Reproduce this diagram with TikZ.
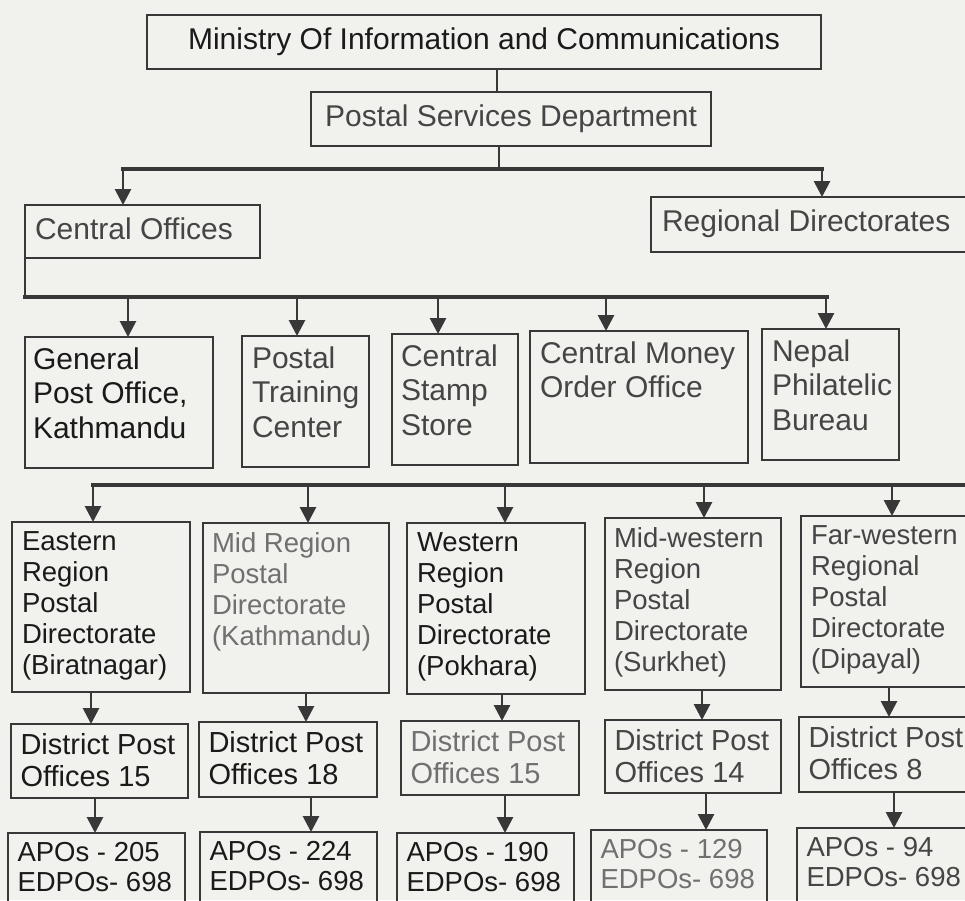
\documentclass[tikz,border=0pt]{standalone}
\usepackage{fontspec}
\setmainfont{Liberation Sans}
\usetikzlibrary{arrows.meta}
\definecolor{paper}{HTML}{F1F1EE}
\definecolor{ink}{HTML}{1A1A1A}
\definecolor{inkg}{HTML}{454545}
\definecolor{inkl}{HTML}{707070}
\definecolor{linec}{HTML}{383838}
\tikzset{
  boxst/.style={draw=linec, line width=2.2pt, inner sep=0pt, outer sep=0pt, anchor=north west},
  txt/.style={inner sep=0pt, outer sep=0pt, anchor=north west, align=left, text=ink},
  one/.style={text height=21.5pt, text depth=0pt},
  fbig/.style={font=\fontsize{30}{34.5}\selectfont},
  fthree/.style={font=\fontsize{27.5}{31}\selectfont},
  ffour/.style={font=\fontsize{29}{32}\selectfont},
  ffive/.style={font=\fontsize{27.5}{30}\selectfont},
  bus/.style={draw=linec, line width=3.6pt},
  conn/.style={draw=linec, line width=2.8pt},
  arr/.style={conn, -{Triangle[width=16pt,length=16pt]}},
}
\newcommand\orgbox[5]{\node[boxst, minimum width={(#4-#2)*1pt}, minimum height={(#5-#3)*1pt}] (#1) at (#2,#3) {};}
\begin{document}
\begin{tikzpicture}[x=1pt,y=-1pt]
\useasboundingbox (0,0) rectangle (965,900);
\fill[paper] (0,0) rectangle (965,900);
\clip (0,0) rectangle (965,900);

% top levels
\orgbox{mini}{147}{15}{821}{69}
\node[txt, fbig, one, anchor=center] (mini-t) at ([yshift=3pt]mini.center) {Ministry Of Information and Communications};
\orgbox{psd}{311}{92}{711}{146}
\node[txt, fbig, one, anchor=center, text=inkg] (psd-t) at ([yshift=3pt]psd.center) {Postal Services Department};
\orgbox{cen}{25}{205}{260}{258}
\node[txt, fbig, one, anchor=west, text=inkg] (cen-t) at ([xshift=10pt,yshift=3pt]cen.west) {Central Offices};
\orgbox{reg}{651}{197}{985}{252}
\node[txt, fbig, one, anchor=west, text=inkg] (reg-t) at ([xshift=11pt,yshift=4pt]reg.west) {Regional Directorates};

% central offices row
\orgbox{gpo}{25}{337}{213}{468}
\orgbox{ptc}{242}{336}{369}{467}
\orgbox{css}{392}{334}{518}{465}
\orgbox{cmo}{530}{331}{748}{463}
\orgbox{npb}{762}{329}{899}{460}
\node[txt, fbig] (gpo-t) at ([shift={(8pt,-10.5pt)}]gpo.north west) {General\\Post Office,\\Kathmandu};
\node[txt, fbig, text=inkg] (ptc-t) at ([shift={(10pt,-10.5pt)}]ptc.north west) {Postal\\Training\\Center};
\node[txt, fbig, text=inkg] (css-t) at ([shift={(9pt,-10.5pt)}]css.north west) {Central\\Stamp\\Store};
\node[txt, fbig, text=inkg] (cmo-t) at ([shift={(10pt,-10.5pt)}]cmo.north west) {Central Money\\Order Office};
\node[txt, fbig, text=inkg] (npb-t) at ([shift={(10pt,-10.5pt)}]npb.north west) {Nepal\\Philatelic\\Bureau};

% regional directorates row
\orgbox{r3a}{12}{522}{190}{692}
\orgbox{r3b}{203}{523}{389}{693}
\orgbox{r3c}{407}{523}{585}{694}
\orgbox{r3d}{605}{518}{781}{690}
\orgbox{r3e}{801}{516}{985}{687}
\node[txt, fthree] (r3a-t) at ([shift={(10pt,-10pt)}]r3a.north west) {Eastern\\Region\\Postal\\Directorate\\(Biratnagar)};
\node[txt, fthree, text=inkl] (r3b-t) at ([shift={(9pt,-10pt)}]r3b.north west) {Mid Region\\Postal\\Directorate\\(Kathmandu)};
\node[txt, fthree] (r3c-t) at ([shift={(10pt,-10pt)}]r3c.north west) {Western\\Region\\Postal\\Directorate\\(Pokhara)};
\node[txt, fthree, text=inkg] (r3d-t) at ([shift={(9pt,-10pt)}]r3d.north west) {Mid-western\\Region\\Postal\\Directorate\\(Surkhet)};
\node[txt, fthree, text=inkg] (r3e-t) at ([shift={(10pt,-10pt)}]r3e.north west) {Far-western\\Regional\\Postal\\Directorate\\(Dipayal)};

% district post offices row
\orgbox{r4a}{11}{724}{188}{798}
\orgbox{r4b}{199}{722}{377}{797}
\orgbox{r4c}{401}{721}{579}{795}
\orgbox{r4d}{605}{720}{781}{793}
\orgbox{r4e}{799}{717}{985}{792}
\node[txt, ffour] (r4a-t) at ([shift={(9.5pt,-9pt)}]r4a.north west) {District Post\\Offices 15};
\node[txt, ffour] (r4b-t) at ([shift={(9.5pt,-9pt)}]r4b.north west) {District Post\\Offices 18};
\node[txt, ffour, text=inkl] (r4c-t) at ([shift={(9.5pt,-9pt)}]r4c.north west) {District Post\\Offices 15};
\node[txt, ffour, text=inkg] (r4d-t) at ([shift={(9.5pt,-9pt)}]r4d.north west) {District Post\\Offices 14};
\node[txt, ffour, text=inkg] (r4e-t) at ([shift={(9.5pt,-9pt)}]r4e.north west) {District Post\\Offices 8};

% APO row
\orgbox{r5a}{8}{833}{185}{940}
\orgbox{r5b}{200}{832}{377}{940}
\orgbox{r5c}{397}{833}{574}{940}
\orgbox{r5d}{591}{830}{767}{940}
\orgbox{r5e}{797}{828}{985}{940}
\node[txt, ffive] (r5a-t) at ([shift={(9.5pt,-9pt)}]r5a.north west) {APOs - 205\\EDPOs- 698};
\node[txt, ffive] (r5b-t) at ([shift={(9.5pt,-9pt)}]r5b.north west) {APOs - 224\\EDPOs- 698};
\node[txt, ffive] (r5c-t) at ([shift={(9.5pt,-9pt)}]r5c.north west) {APOs - 190\\EDPOs- 698};
\node[txt, ffive, text=inkl] (r5d-t) at ([shift={(9.5pt,-9pt)}]r5d.north west) {APOs - 129\\EDPOs- 698};
\node[txt, ffive, text=inkg] (r5e-t) at ([shift={(9.5pt,-9pt)}]r5e.north west) {APOs - 94\\EDPOs- 698};

% connectors
\coordinate (j1) at (497,0);
\draw[conn] (j1 |- mini.south) -- (j1 |- psd.north);
\coordinate (j2) at (499,169);
\draw[conn] (j2 |- psd.south) -- (j2);
\coordinate (b1w) at (123,169);
\coordinate (b1e) at (822,169);
\draw[bus, line cap=rect] (b1w) -- (b1e);
\draw[arr] (b1w) -- (b1w |- cen.north);
\draw[arr] (b1e) -- (b1e |- reg.north);

\coordinate (b2) at (0,297);
\coordinate (b2e) at (827,297);
\draw[conn] (cen.south west) -- (cen.south west |- b2);
\draw[bus, line cap=rect] (cen.south west |- b2) -- (b2e);
\foreach \n/\xx in {gpo/128, ptc/297, css/438, cmo/606, npb/826}
  \draw[arr] (b2 -| \xx,0) -- (\xx,0 |- \n.north);

\coordinate (b3w) at (93,485);
\coordinate (b3e) at (975,485);
\draw[bus, line cap=rect] (b3w) -- (b3e);
\foreach \n/\xx in {r3a/93, r3b/308, r3c/505, r3d/704, r3e/892}
  \draw[arr] (b3w -| \xx,0) -- (\xx,0 |- \n.north);

\foreach \a/\b/\xx in {r3a/r4a/91, r3b/r4b/306, r3c/r4c/502, r3d/r4d/702, r3e/r4e/889}
  \draw[arr] (\xx,0 |- \a.south) -- (\xx,0 |- \b.north);
\foreach \a/\b/\xx in {r4a/r5a/95, r4b/r5b/311, r4c/r5c/505, r4d/r5d/706, r4e/r5e/894}
  \draw[arr] (\xx,0 |- \a.south) -- (\xx,0 |- \b.north);
\end{tikzpicture}
\end{document}
